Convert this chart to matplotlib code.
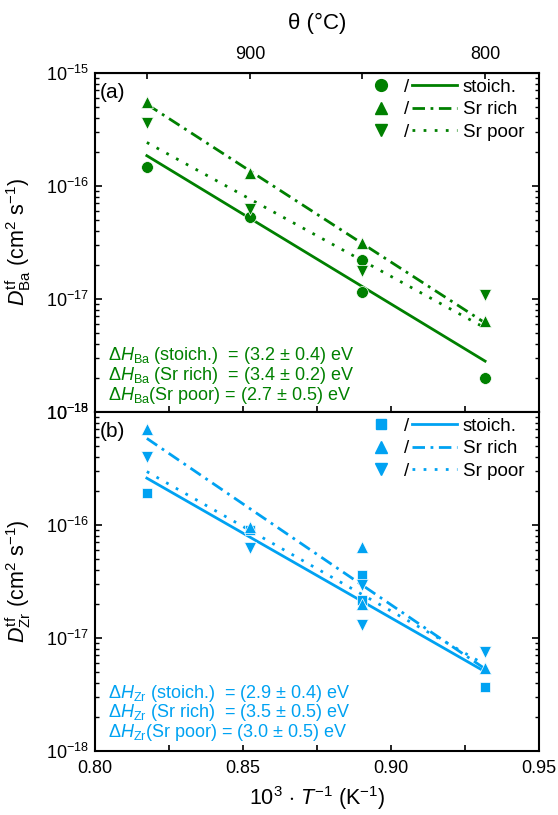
import numpy as np
import matplotlib
matplotlib.use('Agg')
import matplotlib.pyplot as plt
from matplotlib.lines import Line2D
from matplotlib.ticker import FixedLocator, LogLocator, NullFormatter

plt.rcParams['font.family'] = ['Liberation Sans', 'DejaVu Sans']
plt.rcParams['mathtext.fontset'] = 'custom'
plt.rcParams['mathtext.rm'] = 'Liberation Sans'
plt.rcParams['mathtext.it'] = 'Liberation Sans:italic'
plt.rcParams['mathtext.bf'] = 'Liberation Sans:bold'

green = '#008000'
blue = '#00a2f2'

# annealing temperatures (degC) and tracer diffusivities (cm^2/s), Ba
ba_stoich_T = [950, 900, 850, 850, 800]
ba_stoich_D = [1.46e-16, 5.3e-17, 2.2e-17, 1.15e-17, 2.0e-18]
ba_rich_T = [950, 900, 850, 800]
ba_rich_D = [5.5e-16, 1.3e-16, 3.1e-17, 6.4e-18]
ba_poor_T = [950, 900, 850, 800]
ba_poor_D = [3.6e-16, 6.2e-17, 1.75e-17, 1.08e-17]

# Zr
zr_stoich_T = [950, 900, 850, 850, 800]
zr_stoich_D = [1.9e-16, 9.0e-17, 3.6e-17, 2.15e-17, 3.67e-18]
zr_rich_T = [950, 900, 850, 850, 800]
zr_rich_D = [7.0e-16, 9.6e-17, 6.35e-17, 2.0e-17, 5.4e-18]
zr_poor_T = [950, 900, 850, 850, 800]
zr_poor_D = [4.0e-16, 6.2e-17, 2.95e-17, 1.3e-17, 7.5e-18]

# Arrhenius fits, value at the two end temperatures
fit_T = [950, 800]
ba_stoich_fit = [1.84e-16, 2.8e-18]
ba_rich_fit = [5.25e-16, 6.1e-18]
ba_poor_fit = [2.41e-16, 5.5e-18]
zr_stoich_fit = [2.58e-16, 5.0e-18]
zr_rich_fit = [5.8e-16, 5.3e-18]
zr_poor_fit = [2.95e-16, 5.77e-18]

labels = ['stoich.', 'Sr rich', 'Sr poor']
ba_text = [r'$\Delta H_{\rm Ba}$ (stoich.)  = (3.2 $\pm$ 0.4) eV',
           r'$\Delta H_{\rm Ba}$ (Sr rich)  = (3.4 $\pm$ 0.2) eV',
           r'$\Delta H_{\rm Ba}$(Sr poor) = (2.7 $\pm$ 0.5) eV']
zr_text = [r'$\Delta H_{\rm Zr}$ (stoich.)  = (2.9 $\pm$ 0.4) eV',
           r'$\Delta H_{\rm Zr}$ (Sr rich)  = (3.5 $\pm$ 0.5) eV',
           r'$\Delta H_{\rm Zr}$(Sr poor) = (3.0 $\pm$ 0.5) eV']


def inv_T(t):
    return 1000.0 / (np.asarray(t, dtype=float) + 273.15)


def to_celsius(x):
    x = np.asarray(x, dtype=float)
    with np.errstate(divide='ignore'):
        return 1000.0 / x - 273.15


line_styles = ['-', (0, (4.5, 2, 1, 2)), (0, (1, 3))]


def draw_panel(ax, color, markers, points, fits, texts, tag, ylabel, text_y):
    for fit, ls in zip(fits, line_styles):
        ax.plot(inv_T(fit_T), fit, color=color, ls=ls, lw=2.0, zorder=2)
    for (T, D), m in zip(points, markers):
        ms = 7.5 if m == 's' else 8.5
        ax.plot(inv_T(T), D, ls='none', marker=m, ms=ms, color=color,
                mec='white', mew=0.5, zorder=3)

    ax.set_yscale('log')
    ax.set_xlim(0.80, 0.95)
    ax.set_ylim(1e-18, 1e-15)
    ax.yaxis.set_major_locator(LogLocator(base=10, numticks=10))
    ax.yaxis.set_minor_locator(LogLocator(base=10, subs=np.arange(2, 10), numticks=10))
    ax.yaxis.set_minor_formatter(NullFormatter())
    ax.xaxis.set_major_locator(FixedLocator([0.80, 0.85, 0.90, 0.95]))
    ax.xaxis.set_minor_locator(FixedLocator([0.825, 0.875, 0.925]))
    ax.tick_params(which='both', direction='in', right=True, top=False, labelsize=13)
    ax.tick_params(axis='y', which='major', length=5, width=1.2, pad=4)
    ax.tick_params(axis='y', which='minor', length=3, width=1.0)
    ax.tick_params(axis='x', which='both', length=4, width=1.2, pad=7)
    for s in ax.spines.values():
        s.set_linewidth(1.5)

    ax.set_ylabel(ylabel, fontsize=15.5)
    ax.yaxis.set_label_coords(-0.14, 0.5)

    ax.text(0.012, 0.94, tag, transform=ax.transAxes, fontsize=15, va='center', ha='left')
    for t, y in zip(texts, text_y):
        ax.text(0.029, y, t, transform=ax.transAxes, fontsize=13, color=color,
                va='center', ha='left')

    mk_handles = [Line2D([], [], ls='none', marker=m, ms=8.5 if m != 's' else 7.5, color=color)
                  for m in markers]
    ln_handles = [Line2D([], [], ls=ls, lw=2.0, color=color) for ls in line_styles]
    leg1 = ax.legend(mk_handles, ['/'] * 3, loc='upper left', bbox_to_anchor=(0.624, 0.983),
                     frameon=False, borderpad=0, borderaxespad=0, handlelength=1.0,
                     handletextpad=0.7, labelspacing=0.3, fontsize=13.5)
    ax.add_artist(leg1)
    ax.legend(ln_handles, labels, loc='upper left', bbox_to_anchor=(0.714, 0.983),
              frameon=False, borderpad=0, borderaxespad=0, handlelength=2.4,
              handletextpad=0.3, labelspacing=0.3, fontsize=13.5)


fig = plt.figure(figsize=(5.58, 8.15), dpi=100)
ax_a = fig.add_axes([0.170, 0.4949, 0.7957, 0.4160])
ax_b = fig.add_axes([0.170, 0.0789, 0.7957, 0.4160], sharex=ax_a)

draw_panel(ax_a, green, ['o', '^', 'v'],
           [(ba_stoich_T, ba_stoich_D), (ba_rich_T, ba_rich_D), (ba_poor_T, ba_poor_D)],
           [ba_stoich_fit, ba_rich_fit, ba_poor_fit], ba_text, '(a)',
           r'$D^{\rm tf}_{\rm Ba}$ (cm$^2$ s$^{-1}$)', [0.167, 0.108, 0.049])
draw_panel(ax_b, blue, ['s', '^', 'v'],
           [(zr_stoich_T, zr_stoich_D), (zr_rich_T, zr_rich_D), (zr_poor_T, zr_poor_D)],
           [zr_stoich_fit, zr_rich_fit, zr_poor_fit], zr_text, '(b)',
           r'$D^{\rm tf}_{\rm Zr}$ (cm$^2$ s$^{-1}$)', [0.170, 0.114, 0.055])

ax_a.tick_params(labelbottom=False)
ax_b.set_xlabel(r'10$^3$ $\cdot$ $T^{-1}$ (K$^{-1}$)', fontsize=15.5, labelpad=5)

# temperature axis on top
sec = ax_a.secondary_xaxis('top', functions=(to_celsius, inv_T))
sec.xaxis.set_major_locator(FixedLocator([900, 800]))
sec.xaxis.set_minor_locator(FixedLocator([950, 850]))
sec.tick_params(which='both', direction='in', length=4, width=1.2, labelsize=13, pad=7)
sec.set_xlabel('θ (°C)', fontsize=16, labelpad=12)

fig.savefig('out.png', dpi=100)
